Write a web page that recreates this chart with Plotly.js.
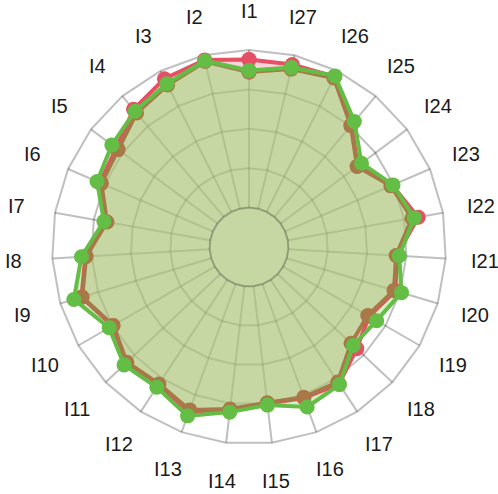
<!DOCTYPE html>
<html>
<head>
<meta charset="utf-8">
<script src="https://cdn.plot.ly/plotly-3.0.1.min.js"></script>
<style>
  html, body { margin: 0; padding: 0; background: #fff; }
  #graph { width: 498px; height: 494px; }
</style>
</head>
<body>
<div id="graph"></div>
<script>
// categories go counter-clockwise from the top
var labels = ['I1', 'I2', 'I3', 'I4', 'I5', 'I6', 'I7', 'I8', 'I9', 'I10',
  'I11', 'I12', 'I13', 'I14', 'I15', 'I16', 'I17', 'I18', 'I19', 'I20',
  'I21', 'I22', 'I23', 'I24', 'I25', 'I26', 'I27'];

var redValues = [94, 97, 94.5, 89, 80, 78, 67, 79, 86, 75,
  82, 80, 86, 79, 75, 77, 79, 69, 63, 72,
  69, 84, 74, 61, 76, 96, 94];

var brownValues = [86, 96, 90, 86, 78.5, 77, 66.5, 78.5, 85.5, 74.5,
  81.5, 79, 85, 78.5, 74.5, 76.5, 77.5, 64, 62, 71,
  68.5, 80, 73, 60.5, 75.5, 95, 91];

var greenValues = [87, 96.5, 91, 87.5, 83.5, 80, 68.5, 81.5, 91, 77.5,
  84, 81.5, 89, 80.5, 76, 83, 79.5, 66, 68.5, 76,
  70.5, 81.5, 74.5, 64, 79, 96.5, 92];

var colors = ['#e65064', '#a87848', '#64be46'];
var fills = ['rgba(224,80,108,0.25)', 'rgba(168,120,72,0.12)', 'rgba(160,230,125,0.5)'];

var gridColor = 'rgba(0,0,0,0.25)';
var holeFrac = 0.2;
var fullDomain = { x: [0, 1], y: [0, 1] };

// plot area inside the margins
var W = 498, H = 494, M = 50;
var plotW = W - 2 * M, plotH = H - 2 * M;
var polarR = Math.min(plotW, plotH) / 2;
var labelDist = 236;   // px from centre to label centre

function closed(arr) {
  return arr.concat([arr[0]]);
}

// fill areas go on the first polar, under its grid
function area(values, fill) {
  return {
    type: 'scatterpolar',
    subplot: 'polar',
    r: closed(values),
    theta: closed(labels),
    mode: 'none',
    fill: 'toself',
    fillcolor: fill,
    hoverinfo: 'skip'
  };
}

// outlines and dots go on the second polar, above the grid
function outline(values, color) {
  return {
    type: 'scatterpolar',
    subplot: 'polar2',
    r: closed(values),
    theta: closed(labels),
    mode: 'lines+markers',
    line: { color: color, width: 4 },
    marker: { color: color, size: 15 },
    hoverinfo: 'skip'
  };
}

function holeShape(fill, line) {
  var rad = polarR * holeFrac;
  return {
    type: 'circle',
    layer: 'below',
    xref: 'paper', yref: 'paper',
    xsizemode: 'pixel', ysizemode: 'pixel',
    xanchor: 0.5, yanchor: 0.5,
    x0: -rad, x1: rad, y0: -rad, y1: rad,
    fillcolor: fill,
    line: line ? { color: line, width: 2 } : { width: 0 }
  };
}

// category labels sit centred on a ring outside the grid
function labelAnnotations() {
  return labels.map(function (lab, i) {
    var a = (90 + i * 360 / labels.length) * Math.PI / 180;
    return {
      text: lab,
      showarrow: false,
      xref: 'paper', yref: 'paper',
      x: 0.5 + labelDist * Math.cos(a) / plotW,
      y: 0.5 + labelDist * Math.sin(a) / plotH,
      xanchor: 'center', yanchor: 'middle',
      font: { family: 'Liberation Sans, Arial, sans-serif', size: 20, color: '#1a1a1a' }
    };
  });
}

function draw() {
  var data = [
    area(redValues, fills[0]),
    area(brownValues, fills[1]),
    area(greenValues, fills[2]),
    outline(redValues, colors[0]),
    outline(brownValues, colors[1]),
    outline(greenValues, colors[2])
  ];

  var angular = {
    direction: 'counterclockwise',
    rotation: 90,
    showticklabels: false,
    ticks: ''
  };

  var layout = {
    width: W,
    height: H,
    margin: { l: M, r: M, t: M, b: M },
    showlegend: false,
    paper_bgcolor: '#fff',
    annotations: labelAnnotations(),
    shapes: [
      holeShape(fills[0]),
      holeShape(fills[1]),
      holeShape(fills[2])
    ],
    polar: {
      domain: fullDomain,
      bgcolor: 'rgba(0,0,0,0)',
      hole: holeFrac,
      gridshape: 'linear',
      radialaxis: {
        range: [0, 100],
        dtick: 25,
        showticklabels: false,
        ticks: '',
        showline: false,
        gridcolor: gridColor,
        gridwidth: 2,
        layer: 'above traces'
      },
      angularaxis: Object.assign({}, angular, {
        showline: true,
        linecolor: gridColor,
        linewidth: 2,
        gridcolor: gridColor,
        gridwidth: 2,
        layer: 'above traces'
      })
    },
    polar2: {
      domain: fullDomain,
      bgcolor: 'rgba(0,0,0,0)',
      hole: holeFrac,
      gridshape: 'linear',
      radialaxis: {
        range: [0, 100],
        showgrid: false,
        showline: false,
        showticklabels: false,
        ticks: ''
      },
      angularaxis: Object.assign({}, angular, {
        showgrid: false,
        showline: false
      })
    }
  };

  Plotly.newPlot('graph', data, layout, { displayModeBar: false, staticPlot: true });
}

window.addEventListener('load', draw, false);
</script>
</body>
</html>
